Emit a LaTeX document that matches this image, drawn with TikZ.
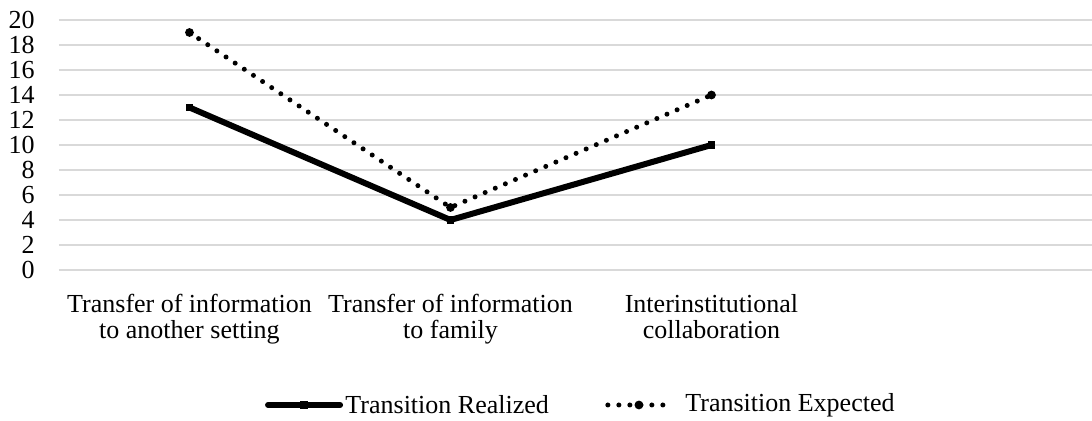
\documentclass[tikz,border=0pt]{standalone}
\usepackage{fontspec}
\setmainfont{Liberation Serif}
\usetikzlibrary{positioning}
\definecolor{gridgray}{RGB}{217,217,217}
\tikzset{
  realized/.style={line width=3pt,line cap=round,line join=round},
  expected/.style={line width=2.5pt,line cap=round,dash pattern=on 0pt off 5.5pt},
  rmark/.style={fill,rectangle,inner sep=0,minimum size=3.6pt},
  emark/.style={fill,circle,inner sep=0,minimum size=4.4pt},
  catlabel/.style={align=center,anchor=north,inner sep=0},
}
\begin{document}
\begin{tikzpicture}[x=130.5pt,y=6.25pt,font=\fontsize{13}{13}\selectfont]
\useasboundingbox (-0.226,-12.08) rectangle (3.958,21.6);
\foreach \v in {0,2,...,20}{
  \draw[gridgray,line width=0.75pt] (0,\v) -- (3.958,\v);
  \node[anchor=east,inner sep=0] (t\v) at (-0.092,\v) {\v};
}
% realized
\node[rmark] (r1) at (0.5,13) {};
\node[rmark] (r2) at (1.5,4) {};
\node[rmark] (r3) at (2.5,10) {};
\draw[realized] (r1.center) -- (r2.center) -- (r3.center);
% expected
\node[emark] (e1) at (0.5,19) {};
\node[emark] (e2) at (1.5,5) {};
\node[emark] (e3) at (2.5,14) {};
\draw[expected] (e1.center) -- (e2.center) -- (e3.center);

\node[catlabel] (c1) at (0.5,-1.92) {Transfer of information\\to another setting};
\node[catlabel] (c2) at (1.5,-1.92) {Transfer of information\\to family};
\node[catlabel] (c3) at (2.5,-1.92) {Interinstitutional\\collaboration};

% legend
\coordinate (lr1) at (0.801,-10.8);
\coordinate (lr2) at (1.077,-10.8);
\draw[realized] (lr1) -- (lr2);
\node[rmark] (lrm) at (0.939,-10.8) {};
\node[right=2.5pt of lr2,inner sep=0] (lrt) {Transition Realized};
\coordinate (le1) at (2.103,-10.8);
\coordinate (le2) at (2.341,-10.8);
\draw[expected] (le1) -- (le2);
\node[emark] (lem) at (2.222,-10.8) {};
\node[right=7.5pt of le2,inner sep=0] (let) {Transition Expected};
\end{tikzpicture}
\end{document}
